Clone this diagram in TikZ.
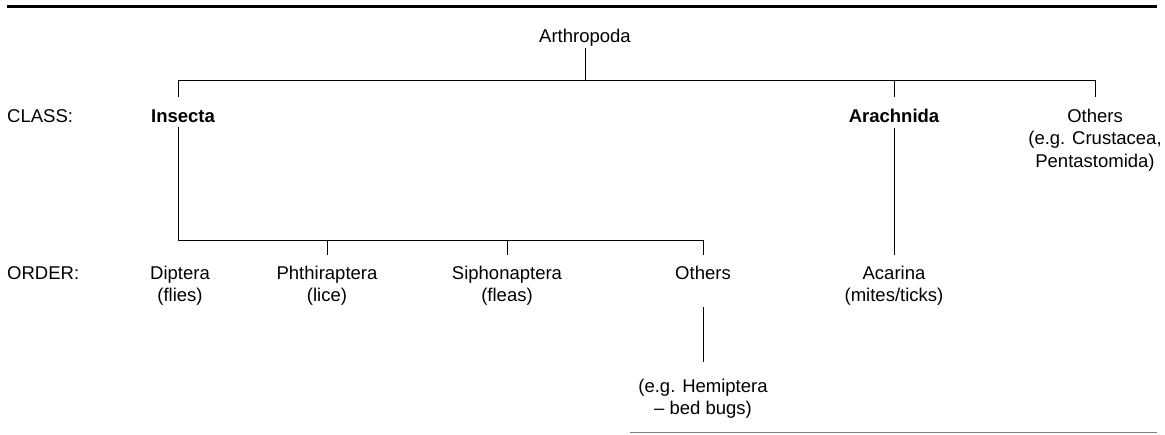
\documentclass[tikz,border=0pt]{standalone}
\usepackage{fontspec}
\setmainfont{Liberation Sans}
\begin{document}
\begin{tikzpicture}[x=1pt,y=-1pt,
  lbl/.style={inner sep=0pt, anchor=base, align=center, font=\fontsize{18.5}{22.5}\selectfont},
  bold/.style={lbl, font=\fontsize{18.5}{22.5}\selectfont\bfseries},
  conn/.style={draw=black, line width=1pt}]
\useasboundingbox (0,0) rectangle (1165,434);
% rules
\coordinate (ruleL) at (7,6.5);
\coordinate (ruleR) at (1157,6.5);
\draw[line width=3pt] (ruleL) -- (ruleR);
\coordinate (footL) at (630,432.5);
\coordinate (footR) at (1157,432.5);
\draw[gray, line width=1pt] (footL) -- (footR);
% nodes (base anchor = baseline of the last line)
\node[lbl] (arth) at (585,42) {Arthropoda};
\node[lbl, anchor=base west] (class) at (7,122) {CLASS:};
\node[bold] (insecta) at (183,122) {Insecta};
\node[bold] (arach) at (894,122) {Arachnida};
\node[lbl] (oth1) at (1095,167) {Others\\(e.g. Crustacea,\\Pentastomida)};
\node[lbl, anchor=base west] (order) at (7,279) {ORDER:};
\node[lbl] (dipt) at (180,301.5) {Diptera\\(flies)};
\node[lbl] (phth) at (327,301.5) {Phthiraptera\\(lice)};
\node[lbl] (siph) at (507,301.5) {Siphonaptera\\(fleas)};
\node[lbl] (oth2) at (703,279) {Others};
\node[lbl] (acar) at (894,301.5) {Acarina\\(mites/ticks)};
\node[lbl] (hemi) at (703,414.5) {(e.g. Hemiptera\\– bed bugs)};
% class level
\coordinate (cL) at (178,80);
\coordinate (cM) at (585,80);
\coordinate (cA) at (894,80);
\coordinate (cR) at (1095,80);
\coordinate (cLt) at (178,97);
\coordinate (cAt) at (894,97);
\coordinate (cRt) at (1095,97);
\coordinate (arthB) at (585,48);
\draw[conn] (arthB) -- (cM);
\draw[conn] (cLt) -- (cL) -- (cR) -- (cRt);
\draw[conn] (cA) -- (cAt);
% order level
\coordinate (insB) at (178,127);
\coordinate (oL) at (178,240);
\coordinate (oP) at (327,240);
\coordinate (oS) at (507,240);
\coordinate (oO) at (703,240);
\coordinate (oPt) at (327,255);
\coordinate (oSt) at (507,255);
\coordinate (oOt) at (703,255);
\draw[conn] (insB) -- (oL) -- (oO) -- (oOt);
\draw[conn] (oP) -- (oPt);
\draw[conn] (oS) -- (oSt);
\coordinate (arB) at (894,128);
\coordinate (acT) at (894,255);
\draw[conn] (arB) -- (acT);
\coordinate (o2B) at (703,307);
\coordinate (heT) at (703,362);
\draw[conn] (o2B) -- (heT);
\end{tikzpicture}
\end{document}
